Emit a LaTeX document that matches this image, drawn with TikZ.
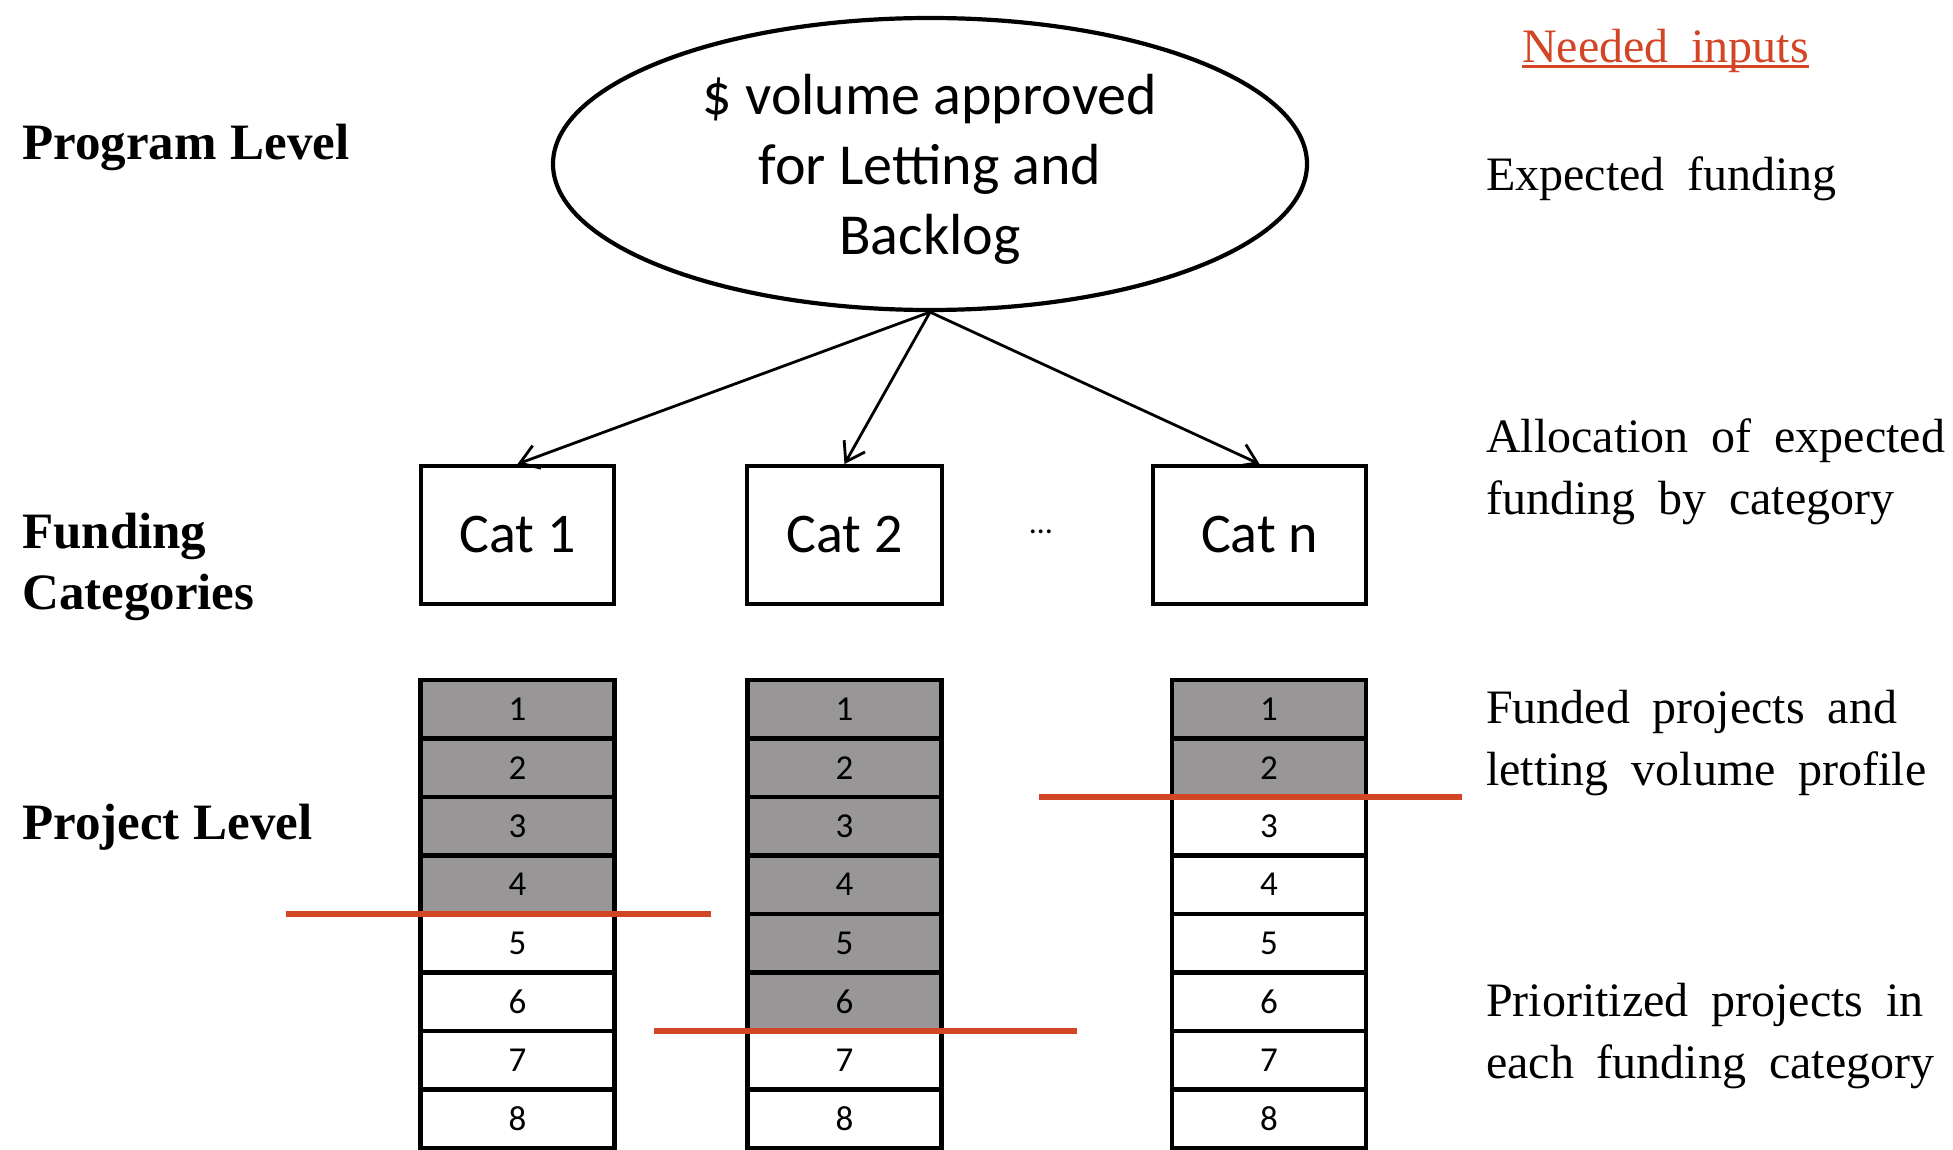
\documentclass[tikz,border=0pt]{standalone}
\usepackage{fontspec}
\setmainfont{Liberation Serif}[WordSpace=1.9]
\newfontfamily\boldserif{Liberation Serif}[WordSpace=1.1]
\newfontfamily\calibri{Carlito}
\usetikzlibrary{shapes.geometric,arrows.meta}
\definecolor{cutred}{RGB}{210,70,38}
\definecolor{fundgray}{RGB}{152,150,150}

\begin{document}
\begin{tikzpicture}[x=1pt,y=-1pt,
  lvl/.style={font=\boldserif\fontsize{51}{61}\selectfont\bfseries, anchor=west, align=left, inner sep=0},
  note/.style={font=\fontsize{48}{62}\selectfont, anchor=west, align=left, inner sep=0},
  catbox/.style={draw, line width=4pt, minimum height=138pt, inner sep=0,
    font=\calibri\fontsize{56}{60}\selectfont},
  cell/.style={draw, line width=4.8pt, outer sep=0, minimum width=194pt,
    minimum height=58.5pt, inner sep=0, font=\calibri\fontsize{35}{37}\selectfont},
  flow/.style={line width=2.8pt, -{Straight Barb[length=18pt,width=24pt,line width=2.8pt]}},
  cutline/.style={draw=cutred, line width=5.5pt},
]
\useasboundingbox[fill=white] (0,0) rectangle (1953,1150);

% level labels on the left
\node[lvl] (lvlprog) at (22,147) {Program Level};
\node[lvl] (lvlcat) at (22,567) {Funding\\Categories};
\node[lvl] (lvlproj) at (22,827) {Project Level};

% program level
\node[draw, ellipse, line width=4.2pt, minimum width=754pt, minimum height=292pt,
  inner sep=0] (top) at (930,164) {};
\node[align=center, inner sep=0, font=\calibri\fontsize{58}{70}\selectfont]
  (toptext) at (930,169) {\$ volume approved\\for Letting and\\Backlog};

% funding categories
\node[catbox, minimum width=193pt] (cat1) at (517.5,535) {Cat 1};
\node[catbox, minimum width=195pt] (cat2) at (844.5,535) {Cat 2};
\node[catbox, minimum width=213pt] (catn) at (1259.5,535) {Cat n};
\node[font=\calibri\fontsize{32}{34}\selectfont] (dots) at (1041,532) {…};

\draw[flow] (top.south) -- (cat1.north);
\draw[flow] (top.south) -- (cat2.north);
\draw[flow] (top.south) -- (catn.north);

% prioritized project lists, funded rows shaded
\foreach \col/\x/\k in {a/517.5/4, b/844.5/6, c/1269/2} {
  \foreach \r in {1,...,8} {
    \pgfmathsetmacro\yy{680+58.5*(\r-0.5)}
    \ifnum\r>\k \def\fillc{white}\else\def\fillc{fundgray}\fi
    \node[cell, fill=\fillc] (\col\r) at (\x,\yy) {\r};
  }
}

% funding cut-off lines
\draw[cutline] ([xshift=-135pt]a4.south west) -- ([xshift=96pt]a4.south east);
\draw[cutline] ([xshift=-94pt]b6.south west) -- ([xshift=135pt]b6.south east);
\draw[cutline] ([xshift=-133pt]c2.south west) -- ([xshift=96pt]c2.south east);

% needed inputs column
\node[note, text=cutred] (need) at (1522,51) {Needed inputs};
\draw[cutred, line width=2.5pt] ([yshift=-4pt]need.base west) -- ([yshift=-4pt]need.base east);
\node[note] (in1) at (1486,179) {Expected funding};
\node[note] (in2) at (1486,472) {Allocation of expected\\funding by category};
\node[note] (in3) at (1486,743) {Funded projects and\\letting volume profile};
\node[note] (in4) at (1486,1036) {Prioritized projects in\\each funding category};
\end{tikzpicture}
\end{document}
